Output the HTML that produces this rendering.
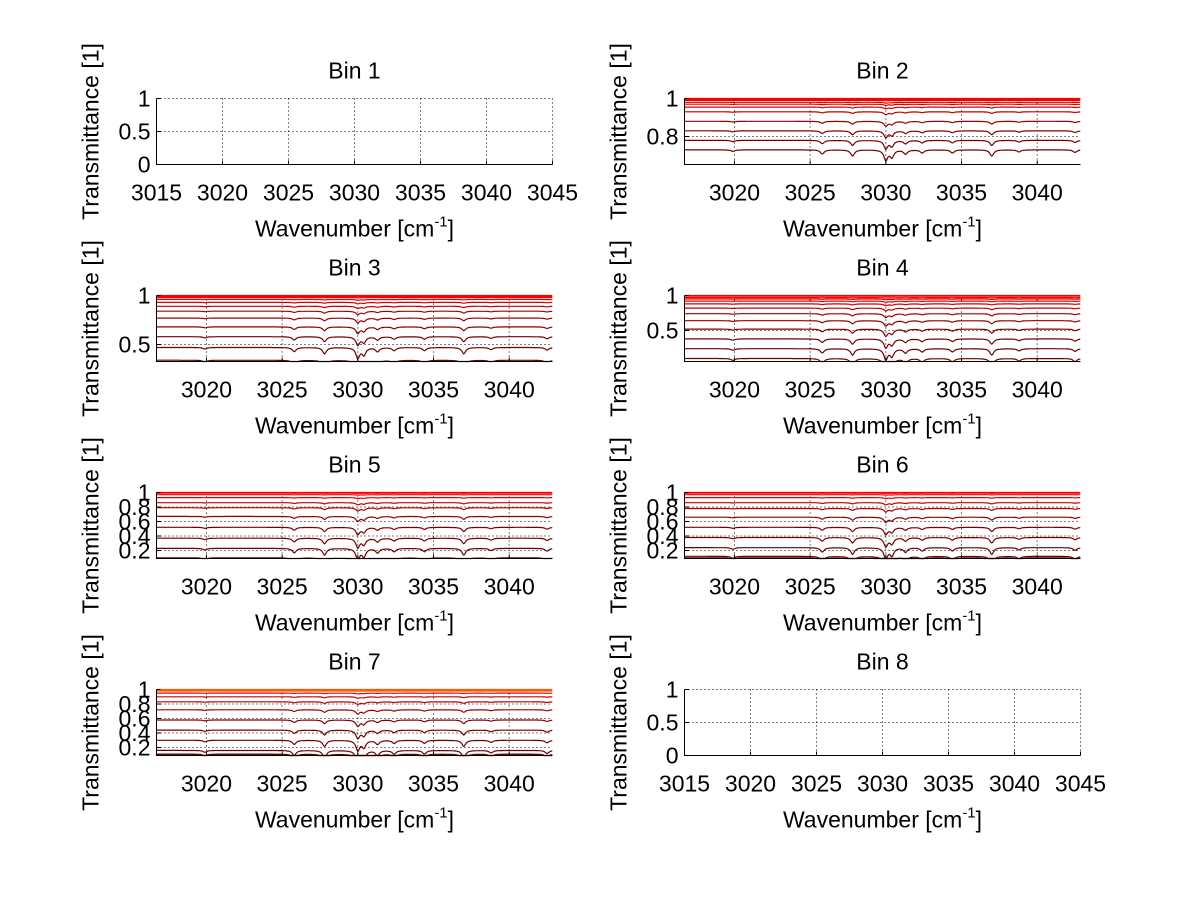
<!DOCTYPE html>
<html><head><meta charset="utf-8"><style>
html,body{margin:0;padding:0;background:#fff;}
svg text{font-family:"Liberation Sans",Arial,sans-serif;font-size:23px;fill:#000;}
</style></head><body>
<svg id="fig" width="1200" height="901" viewBox="0 0 1200 901" xmlns="http://www.w3.org/2000/svg"></svg>
<script>
// ---- data ----
const binTitles = ["Bin 1","Bin 2","Bin 3","Bin 4","Bin 5","Bin 6","Bin 7","Bin 8"];
const emptyXTicks = [3015,3020,3025,3030,3035,3040,3045];
const dataXTicks = [3020,3025,3030,3035,3040];
const yRanges = [[0,1],[0.653,1],[0.327,1],[0.057,1],[0.09,1],[0.09,1],[0.09,1],[0,1]];
const yTicks = [[0,0.5,1],[0.8,1],[0.5,1],[0.5,1],[0.2,0.4,0.6,0.8,1],[0.2,0.4,0.6,0.8,1],[0.2,0.4,0.6,0.8,1],[0,0.5,1]];
const bin2Levels = [1,0.995,0.99,0.98,0.97,0.955,0.93,0.88,0.83,0.78,0.73];
const bin3Levels = [1,0.99,0.98,0.96,0.93,0.89,0.84,0.77,0.68,0.58,0.47,0.34];
const bin4Levels = [1,0.99,0.97,0.95,0.92,0.88,0.82,0.74,0.64,0.52,0.38,0.24,0.1];
const bin5Levels = [1,0.99,0.97,0.93,0.86,0.79,0.67,0.52,0.37,0.23,0.1];
const bin6Levels = [1,0.99,0.97,0.93,0.86,0.78,0.66,0.52,0.38,0.24,0.12,0.1];
const bin7Levels = [1,0.995,0.98,0.95,0.9,0.83,0.72,0.58,0.44,0.3,0.16,0.11,0.1];
const dipCenters = [3019.9,3025.8,3027.8,3030.0,3030.4,3031.3,3032.4,3034.4,3037.0,3038.8,3042.5];
const dipDepths  = [0.15,0.4,0.6,1.0,0.7,0.4,0.3,0.3,0.6,0.2,0.25];
const specRange = [3016.7,3042.86];

const svg = document.getElementById('fig');
const NS = 'http://www.w3.org/2000/svg';
function mk(tag, attrs, parent){const e=document.createElementNS(NS,tag);for(const k in attrs)e.setAttribute(k,attrs[k]);(parent||svg).appendChild(e);return e;}

const colX = [156.5, 684.5], W = 396, H = 66;
const rowY = [98.5, 295.5, 492.5, 689.5];
const levelSets = [null,bin2Levels,bin3Levels,bin4Levels,bin5Levels,bin6Levels,bin7Levels,null];

function color(t, orange){
  const r = Math.round(110 + 145*Math.pow(t,3));
  const g = orange && t>0.97 ? 90 : 0;
  return `rgb(${r},${g},0)`;
}

for (let i=0;i<8;i++){
  const x0 = colX[i%2], y0 = rowY[Math.floor(i/2)];
  const g = mk('g',{});
  
  
  const empty = !levelSets[i];
  const xr = empty ? [3015,3045] : specRange;
  const yr = yRanges[i];
  const sx = v => x0 + (v-xr[0])/(xr[1]-xr[0])*W;
  const sy = v => y0 + H - (v-yr[0])/(yr[1]-yr[0])*H;
  const xt = empty ? emptyXTicks : dataXTicks;
  xt.forEach(v=>{const l=mk('line',{x1:sx(v),x2:sx(v),y1:y0,y2:y0+H,stroke:'#000','stroke-width':1,'stroke-dasharray':'1,3'},g);
    });
  yTicks[i].forEach(v=>{const l=mk('line',{x1:x0,x2:x0+W,y1:sy(v),y2:sy(v),stroke:'#000','stroke-width':1,'stroke-dasharray':'1,3'},g);
    });
  if(!empty){
    const lv = levelSets[i];
    lv.slice().reverse().forEach(L=>{
      let d='';
      for(let w=xr[0]; w<=xr[1]+1e-9; w+=0.05){
        let dip=0;
        for(let k=0;k<dipCenters.length;k++){const u=(w-dipCenters[k])/0.15;dip+=dipDepths[k]/(1+u*u);}
        let v = L - dip*(1-L)*0.2;
        v = Math.max(v, yr[0]);
        d += (d?'L':'M')+sx(w).toFixed(1)+','+sy(v).toFixed(1);
      }
      const p=mk('path',{d:d,fill:'none',stroke:color((L-yr[0])/(1-yr[0]), i===6),'stroke-width':1.2},g);
      
      
    });
  }
  const ax=mk('path',{d:`M${x0},${y0}V${y0+H}H${x0+W}`,fill:'none',stroke:'#000','stroke-width':1},g);
  
  xt.forEach(v=>{
    mk('line',{x1:sx(v),x2:sx(v),y1:y0+H,y2:y0+H-4,stroke:'#000'},g);
    const t=mk('text',{x:sx(v),y:y0+H+36,'text-anchor':'middle'},g);t.textContent=v;
    
  });
  yTicks[i].forEach(v=>{
    mk('line',{x1:x0,x2:x0+4,y1:sy(v),y2:sy(v),stroke:'#000'},g);
    const t=mk('text',{x:x0-6,y:sy(v)+8,'text-anchor':'end'},g);t.textContent=String(v);
    
  });
  const ti=mk('text',{x:x0+W/2,y:y0-20,'text-anchor':'middle'},g);ti.textContent=binTitles[i];
  
  const xl=mk('text',{x:x0+W/2,y:y0+H+72,'text-anchor':'middle','font-size':'24'},g);
  
  xl.innerHTML='Wavenumber [cm<tspan dy="-10" font-size="15">-1</tspan><tspan dy="10">]</tspan>';
  const yl=mk('text',{x:0,y:0,'text-anchor':'middle','font-size':'24',transform:`translate(${x0-58},${y0+H/2}) rotate(-90)`},g);
  yl.textContent='Transmittance [1]';
  
}
</script>
</body></html>
